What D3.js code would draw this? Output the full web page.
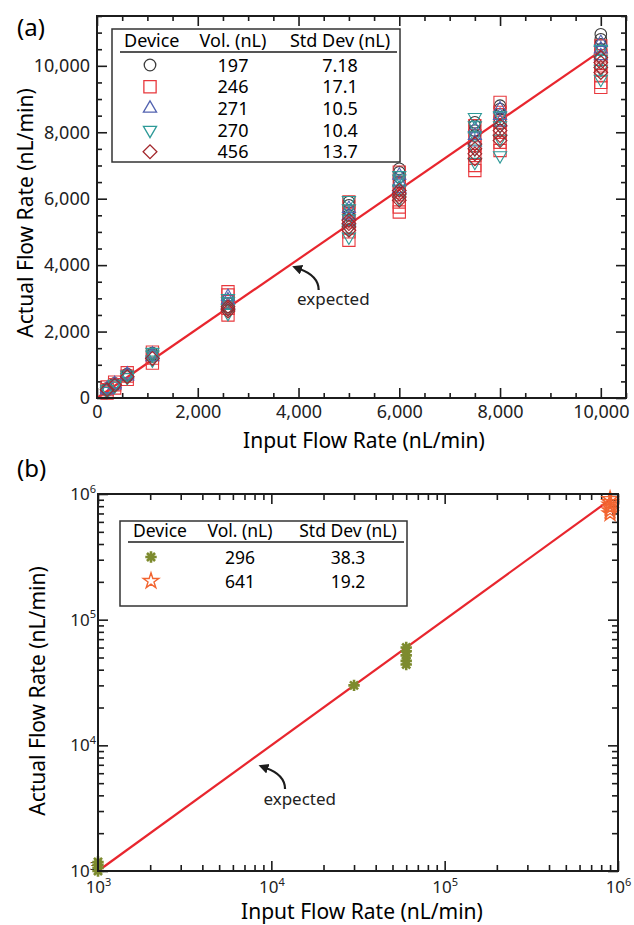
<!DOCTYPE html>
<html>
<head>
<meta charset="utf-8">
<script src="https://cdn.jsdelivr.net/npm/d3@7"></script>
<style>
body { margin: 0; background: #fff; }
svg { display: block; font-family: "Noto Sans", sans-serif; }
</style>
</head>
<body>
<script>
// ---- panel (a) data: input flow rates and measured values per device ----
var inputA = [200, 350, 600, 1100, 2600, 5000, 6000, 7500, 8000, 10000];

var dev197 = [[230, 260, 290], [380, 410, 440], [650, 690, 720], [1250, 1300, 1350],
  [2750, 2850, 2950], [5500, 5650, 5800, 5900], [6500, 6650, 6800, 6900],
  [7900, 8050, 8200, 8300], [8400, 8550, 8700, 8800], [10500, 10650, 10800, 10950]];
var dev246 = [[150, 250, 330], [300, 400, 480], [560, 660, 760], [1050, 1200, 1380],
  [2500, 2700, 2900, 3100, 3200], [4750, 5000, 5300, 5600, 5900], [5600, 5750, 5900, 6200, 6500, 6800],
  [6850, 7000, 7300, 7600, 7900, 8200], [7450, 7700, 8000, 8300, 8600, 8900], [9350, 9500, 9700, 10000, 10300, 10600]];
var dev271 = [[240, 280], [390, 430], [660, 720], [1240, 1320],
  [2800, 2950, 3050], [5300, 5500, 5700], [6300, 6500, 6700],
  [7700, 7900, 8100], [8300, 8500, 8700], [10300, 10500, 10700]];
var dev270 = [[200, 270], [360, 420], [620, 700], [1150, 1300, 1380],
  [2550, 2700, 2900, 3000], [4850, 5100, 5400, 5700, 5950], [6000, 6300, 6600, 6700],
  [7100, 7500, 7900, 8200, 8450], [7300, 7800, 8200, 8500], [9600, 9900, 10200, 10500]];
var dev456 = [[250], [390], [640], [1190],
  [2620, 2680, 2750], [5050, 5150, 5250, 5350], [5950, 6050, 6150, 6250],
  [7200, 7350, 7500, 7650], [7750, 7900, 8050, 8200], [9800, 9950, 10100, 10250]];

var volA = ["197", "246", "271", "270", "456"];
var sdA = ["7.18", "17.1", "10.5", "10.4", "13.7"];
var expectedA = [[0, 0], [10000, 10450]];
var xTicksA = [0, 2000, 4000, 6000, 8000, 10000];
var yTicksA = [0, 2000, 4000, 6000, 8000, 10000];

// ---- panel (b) data ----
var input296 = [1000, 30000, 60000];
var dev296 = [[1000, 1060, 1120, 1180], [30000], [44000, 47000, 52000, 56000, 60000]];
var input641 = [900000];
var dev641 = [[700000, 740000, 780000, 820000, 860000, 910000]];
var volB = ["296", "641"];
var sdB = ["38.3", "19.2"];
var expectedB = [[1000, 1000], [900000, 900000]];
var decadeTicks = [1e3, 1e4, 1e5, 1e6];
var minorMult = [2, 3, 4, 5, 6, 7, 8, 9];

var ink = "#1c1c1c";
var svg = d3.select("body").append("svg").attr("width", 634).attr("height", 925);

// arrow head for the "expected" notes
svg.append("defs").append("marker")
    .attr("id", "ah").attr("markerUnits", "userSpaceOnUse")
    .attr("markerWidth", 12).attr("markerHeight", 12)
    .attr("refX", 2).attr("refY", 5).attr("orient", "auto")
  .append("path").attr("d", "M0,0 L10,5 L0,10 z").attr("fill", ink);

// 8-armed asterisk
var asterisk8 = {
  draw: function (ctx, size) {
    var r = Math.sqrt(size) / 2;
    for (var a = 0; a < 4; a++) {
      var t = a * Math.PI / 4;
      ctx.moveTo(r * Math.cos(t), r * Math.sin(t));
      ctx.lineTo(-r * Math.cos(t), -r * Math.sin(t));
    }
  }
};

function axis(fn, scale, values, size, tr, fmt, fs) {
  var g = svg.append("g").attr("transform", tr)
    .call(fn(scale).tickValues(values).tickSize(size).tickPadding(fs ? fs.pad : 0).tickFormat(fmt || ""));
  g.attr("font-family", null).attr("font-size", fs ? fs.size : 18);
  g.select(".domain").remove();
  g.selectAll(".tick line").attr("stroke", ink).attr("stroke-width", 1.6);
  g.selectAll(".tick text").attr("fill", "#222");
  return g;
}

function frame(x, y) {
  svg.append("rect")
    .attr("x", x.range()[0]).attr("y", y.range()[1])
    .attr("width", x.range()[1] - x.range()[0]).attr("height", y.range()[0] - y.range()[1])
    .attr("fill", "none").attr("stroke", ink).attr("stroke-width", 2);
}

function curvedArrow(x0, y0) {
  svg.append("path")
      .attr("d", "M" + x0 + "," + y0 + " C" + x0 + "," + (y0 - 10) + " " + (x0 - 8) + "," + (y0 - 17) + " " + (x0 - 19) + "," + (y0 - 21))
      .attr("fill", "none").attr("stroke", ink).attr("stroke-width", 2.2).attr("marker-end", "url(#ah)");
}

// =========================== panel (a) ===========================
var xA = d3.scaleLinear().domain([0, 10500]).range([97, 626]);
var yA = d3.scaleLinear().domain([0, 11500]).range([398, 16]);
var minorXA = d3.range(0, 10501, 500).filter(function (d) { return d % 2000 !== 0; });
var minorYA = d3.range(0, 11501, 500).filter(function (d) { return d % 2000 !== 0; });

axis(d3.axisBottom, xA, xTicksA, -10, "translate(0,398)", d3.format(","), {size: 18, pad: 7});
axis(d3.axisBottom, xA, minorXA, -5, "translate(0,398)");
axis(d3.axisTop, xA, xTicksA, -10, "translate(0,16)");
axis(d3.axisTop, xA, minorXA, -5, "translate(0,16)");
axis(d3.axisLeft, yA, yTicksA, -10, "translate(97,0)", d3.format(","), {size: 18, pad: 7});
axis(d3.axisLeft, yA, minorYA, -5, "translate(97,0)");
axis(d3.axisRight, yA, yTicksA, -10, "translate(626,0)");
axis(d3.axisRight, yA, minorYA, -5, "translate(626,0)");

var styleA = [
  {type: d3.symbolCircle, size: 105, rot: 0, color: "#3b3b3b"},
  {type: d3.symbolSquare, size: 150, rot: 0, color: "#e8383d"},
  {type: d3.symbolTriangle, size: 75, rot: 0, color: "#5262b0"},
  {type: d3.symbolTriangle, size: 75, rot: 180, color: "#2e9a98"},
  {type: d3.symbolSquare, size: 95, rot: 45, color: "#a2262b"}
];
var devicesA = [dev197, dev246, dev271, dev270, dev456];
var ptsA = [];
devicesA.forEach(function (dev, k) {
  dev.forEach(function (vals, i) {
    vals.forEach(function (v) { ptsA.push({x: inputA[i], y: v, k: k}); });
  });
});

svg.append("path")
    .attr("d", d3.line().x(function (d) { return xA(d[0]); }).y(function (d) { return yA(d[1]); })(expectedA))
    .attr("fill", "none").attr("stroke", "#e8262e").attr("stroke-width", 2.2);

svg.append("g").selectAll("path").data(ptsA).join("path")
    .attr("d", function (d) { return d3.symbol(styleA[d.k].type, styleA[d.k].size)(); })
    .attr("transform", function (d) { return "translate(" + xA(d.x) + "," + yA(d.y) + ") rotate(" + styleA[d.k].rot + ")"; })
    .attr("fill", "none").attr("stroke", function (d) { return styleA[d.k].color; })
    .attr("stroke-width", 1.1);

frame(xA, yA);

// "expected" note
svg.append("text").attr("x", xA(3970)).attr("y", yA(2800)).attr("font-size", 17).attr("fill", "#222").text("expected");
curvedArrow(xA(4400), yA(3250));

// legend (a)
var legA = svg.append("g");
legA.append("rect").attr("x", 112).attr("y", 29).attr("width", 288).attr("height", 133)
    .attr("fill", "#fff").attr("stroke", "#333").attr("stroke-width", 1.5);
legA.append("line").attr("x1", 120).attr("x2", 397).attr("y1", 52).attr("y2", 52).attr("stroke", ink).attr("stroke-width", 1.5);
legA.append("text").attr("x", 124).attr("y", 47).attr("font-size", 18).text("Device");
legA.append("text").attr("x", 233).attr("y", 47).attr("font-size", 18).attr("text-anchor", "middle").text("Vol. (nL)");
legA.append("text").attr("x", 340).attr("y", 47).attr("font-size", 18).attr("text-anchor", "middle").text("Std Dev (nL)");
volA.forEach(function (v, i) {
  var cy = 65 + i * 21.7;
  legA.append("path").attr("d", d3.symbol(styleA[i].type, styleA[i].size)())
      .attr("transform", "translate(150," + cy + ") rotate(" + styleA[i].rot + ")")
      .attr("fill", "none").attr("stroke", styleA[i].color).attr("stroke-width", 1.3);
  legA.append("text").attr("x", 233).attr("y", cy + 6.5).attr("font-size", 18).attr("text-anchor", "middle").text(v);
  legA.append("text").attr("x", 340).attr("y", cy + 6.5).attr("font-size", 18).attr("text-anchor", "middle").text(sdA[i]);
});

svg.append("text").attr("x", 17).attr("y", 36).attr("font-size", 24).text("(a)");
svg.append("text").attr("transform", "translate(33,213) rotate(-90)").attr("text-anchor", "middle")
    .attr("font-size", 21).text("Actual Flow Rate (nL/min)");
svg.append("text").attr("x", 364).attr("y", 448).attr("text-anchor", "middle")
    .attr("font-size", 21).text("Input Flow Rate (nL/min)");

// =========================== panel (b) ===========================
var xB = d3.scaleLog().domain([1e3, 1e6]).range([98, 618]);
var yB = d3.scaleLog().domain([1e3, 1e6]).range([871, 494]);
var minorB = [];
[1e3, 1e4, 1e5].forEach(function (dec) { minorMult.forEach(function (m) { minorB.push(m * dec); }); });

function powLabel(sel) {
  sel.selectAll(".tick text").each(function (d) {
    var t = d3.select(this);
    t.text("10");
    t.append("tspan").attr("dy", "-0.65em").attr("font-size", 11).text(Math.round(Math.log10(d)));
  });
}

axis(d3.axisBottom, xB, decadeTicks, -10, "translate(0,871)", String, {size: 17, pad: 10}).call(powLabel);
axis(d3.axisBottom, xB, minorB, -6, "translate(0,871)");
axis(d3.axisTop, xB, decadeTicks, -10, "translate(0,494)");
axis(d3.axisTop, xB, minorB, -6, "translate(0,494)");
axis(d3.axisLeft, yB, decadeTicks, -10, "translate(98,0)", String, {size: 17, pad: 2}).call(powLabel);
axis(d3.axisLeft, yB, minorB, -6, "translate(98,0)");
axis(d3.axisRight, yB, decadeTicks, -10, "translate(618,0)");
axis(d3.axisRight, yB, minorB, -6, "translate(618,0)");

svg.append("path")
    .attr("d", d3.line().x(function (d) { return xB(d[0]); }).y(function (d) { return yB(d[1]); })(expectedB))
    .attr("fill", "none").attr("stroke", "#e8262e").attr("stroke-width", 2.2);

var styleB = [
  {type: asterisk8, size: 130, color: "#7d8b2e", sw: 2.6},
  {type: d3.symbolStar, size: 75, color: "#f26430", sw: 1.4}
];
var ptsB = [];
dev296.forEach(function (vals, i) { vals.forEach(function (v) { ptsB.push({x: input296[i], y: v, k: 0}); }); });
dev641.forEach(function (vals, i) { vals.forEach(function (v) { ptsB.push({x: input641[i], y: v, k: 1}); }); });

svg.append("g").selectAll("path").data(ptsB).join("path")
    .attr("d", function (d) { return d3.symbol(styleB[d.k].type, styleB[d.k].size)(); })
    .attr("transform", function (d) { return "translate(" + xB(d.x) + "," + yB(d.y) + ")"; })
    .attr("fill", "none").attr("stroke", function (d) { return styleB[d.k].color; })
    .attr("stroke-width", function (d) { return styleB[d.k].sw; });

frame(xB, yB);

svg.append("text").attr("x", xB(9000)).attr("y", yB(3350)).attr("font-size", 17).attr("fill", "#222").text("expected");
curvedArrow(xB(12000), yB(4490));

// legend (b)
var legB = svg.append("g");
legB.append("rect").attr("x", 120).attr("y", 521).attr("width", 287).attr("height", 85)
    .attr("fill", "#fff").attr("stroke", "#333").attr("stroke-width", 1.5);
legB.append("line").attr("x1", 128).attr("x2", 404).attr("y1", 542).attr("y2", 542).attr("stroke", ink).attr("stroke-width", 1.5);
legB.append("text").attr("x", 133).attr("y", 537).attr("font-size", 17.5).text("Device");
legB.append("text").attr("x", 240).attr("y", 537).attr("font-size", 17.5).attr("text-anchor", "middle").text("Vol. (nL)");
legB.append("text").attr("x", 348).attr("y", 537).attr("font-size", 17.5).attr("text-anchor", "middle").text("Std Dev (nL)");
volB.forEach(function (v, i) {
  var cy = 557 + i * 24;
  legB.append("path").attr("d", d3.symbol(styleB[i].type, styleB[i].size)())
      .attr("transform", "translate(151," + cy + ")")
      .attr("fill", "none").attr("stroke", styleB[i].color).attr("stroke-width", styleB[i].sw);
  legB.append("text").attr("x", 240).attr("y", cy + 6.5).attr("font-size", 17.5).attr("text-anchor", "middle").text(v);
  legB.append("text").attr("x", 348).attr("y", cy + 6.5).attr("font-size", 17.5).attr("text-anchor", "middle").text(sdB[i]);
});

svg.append("text").attr("x", 17).attr("y", 477).attr("font-size", 24).text("(b)");
svg.append("text").attr("transform", "translate(45,691) rotate(-90)").attr("text-anchor", "middle")
    .attr("font-size", 21).text("Actual Flow Rate (nL/min)");
svg.append("text").attr("x", 362).attr("y", 919).attr("text-anchor", "middle")
    .attr("font-size", 21).text("Input Flow Rate (nL/min)");
</script>
</body>
</html>
